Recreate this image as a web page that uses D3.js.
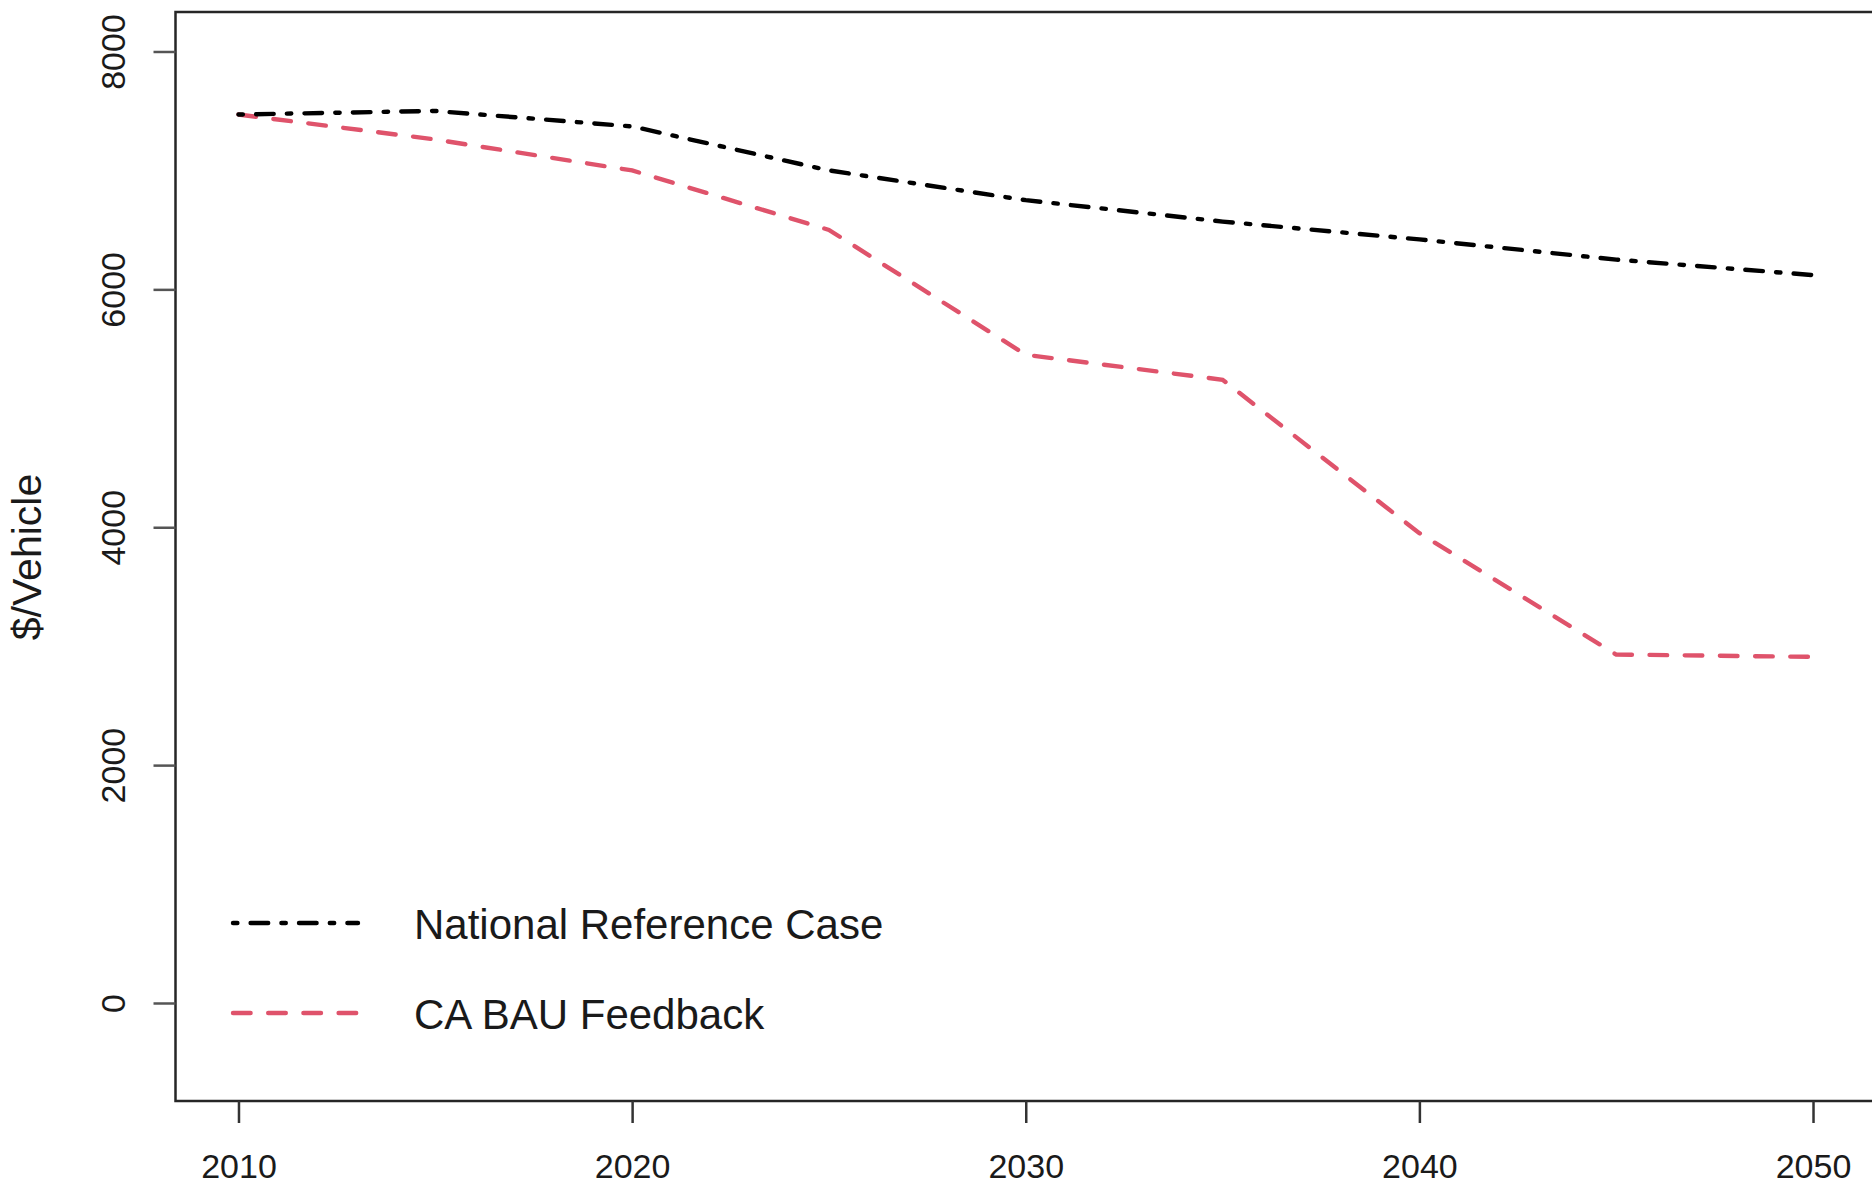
<!DOCTYPE html>
<html>
<head>
<meta charset="utf-8">
<script src="https://cdn.jsdelivr.net/npm/d3@7"></script>
<style>
  body { margin: 0; background: #fff; }
  svg text { font-family: "Liberation Sans", Arial, Helvetica, sans-serif; fill: #1a1a1a; }
</style>
</head>
<body>
<div id="chart-1"></div>
<script>
(function() {
  var width = 1872, height = 1189;

  // plot box (R style, 4% padding on each side)
  var box = { left: 175.5, top: 12, right: 1876, bottom: 1101 };

  var years = [2010, 2015, 2020, 2025, 2030, 2035, 2040, 2045, 2050];
  var nationalRef = [7470, 7500, 7370, 7000, 6750, 6570, 6420, 6250, 6120];
  var caBau = [7470, 7260, 7000, 6500, 5450, 5240, 3950, 2930, 2910];

  var xTicks = [2010, 2020, 2030, 2040, 2050];
  var yTicks = [0, 2000, 4000, 6000, 8000];

  var seriesNames = ["National Reference Case", "CA BAU Feedback"];

  var svg = d3.select("#chart-1")
    .append("svg")
    .attr("width", width)
    .attr("height", height);

  var xPositionScale = d3.scaleLinear().domain([2008.4, 2051.6]).range([box.left, box.right]);
  var yPositionScale = d3.scaleLinear().domain([-824, 8332]).range([box.bottom, box.top]);

  // dash patterns like R's lty "dotdash" (1343) and "dashed" (44)
  var lw = 4.4;
  var dotdash = [1, 3, 4, 3].map(function(d) { return d * lw; }).join(",");
  var dashed = [4, 4].map(function(d) { return d * lw; }).join(",");

  var line = d3.line()
    .x(function(d) { return xPositionScale(d.year); })
    .y(function(d) { return yPositionScale(d.value); });

  function toPoints(vals) {
    return years.map(function(y, i) { return { year: y, value: vals[i] }; });
  }

  svg.append("path")
    .datum(toPoints(caBau))
    .attr("d", line)
    .attr("fill", "none")
    .attr("stroke", "#DF536B")
    .attr("stroke-width", lw)
    .attr("stroke-linecap", "round")
    .attr("stroke-dasharray", dashed);

  svg.append("path")
    .datum(toPoints(nationalRef))
    .attr("d", line)
    .attr("fill", "none")
    .attr("stroke", "#000")
    .attr("stroke-width", lw)
    .attr("stroke-linecap", "round")
    .attr("stroke-dasharray", dotdash);

  // box
  svg.append("rect")
    .attr("x", box.left)
    .attr("y", box.top)
    .attr("width", box.right - box.left)
    .attr("height", box.bottom - box.top)
    .attr("fill", "none")
    .attr("stroke", "#262626")
    .attr("stroke-width", 2.5);

  // axes
  var xAxis = d3.axisBottom(xPositionScale).tickValues(xTicks).tickSize(22).tickPadding(31)
    .tickFormat(d3.format("d"));
  var gx = svg.append("g")
    .attr("class", "axis x-axis")
    .attr("transform", "translate(0," + box.bottom + ")")
    .call(xAxis);
  gx.select(".domain").remove();
  gx.selectAll(".tick line").attr("stroke", "#333").attr("stroke-width", 2.5);
  gx.selectAll("text").attr("font-size", 34).attr("fill", "#1a1a1a")
    .style("font-family", "'Liberation Sans', Arial, sans-serif");

  var yAxis = d3.axisLeft(yPositionScale).tickValues(yTicks).tickSize(22)
    .tickFormat(d3.format("d"));
  var gy = svg.append("g")
    .attr("class", "axis y-axis")
    .attr("transform", "translate(" + box.left + ",0)")
    .call(yAxis);
  gy.select(".domain").remove();
  gy.selectAll(".tick line").attr("stroke", "#555").attr("stroke-width", 2.5);
  gy.selectAll("text")
    .attr("font-size", 34)
    .attr("fill", "#1a1a1a")
    .style("font-family", "'Liberation Sans', Arial, sans-serif")
    .attr("text-anchor", "middle")
    .attr("transform", "rotate(-90)")
    .attr("x", 0)
    .attr("y", -51)
    .attr("dy", 0);

  // y label
  svg.append("text")
    .attr("transform", "translate(41,557) rotate(-90)")
    .attr("text-anchor", "middle")
    .attr("font-size", 41)
    .text("$/Vehicle");

  // legend
  var legendY = [923, 1013];
  var legendStyles = [
    { color: "#000", dash: dotdash },
    { color: "#DF536B", dash: dashed }
  ];
  seriesNames.forEach(function(name, i) {
    svg.append("line")
      .attr("x1", 233).attr("x2", 358)
      .attr("y1", legendY[i]).attr("y2", legendY[i])
      .attr("stroke", legendStyles[i].color)
      .attr("stroke-width", lw)
      .attr("stroke-linecap", "round")
      .attr("stroke-dasharray", legendStyles[i].dash);
    svg.append("text")
      .attr("x", 414)
      .attr("y", legendY[i] + 16)
      .attr("font-size", 42)
      .text(name);
  });
})();
</script>
</body>
</html>
